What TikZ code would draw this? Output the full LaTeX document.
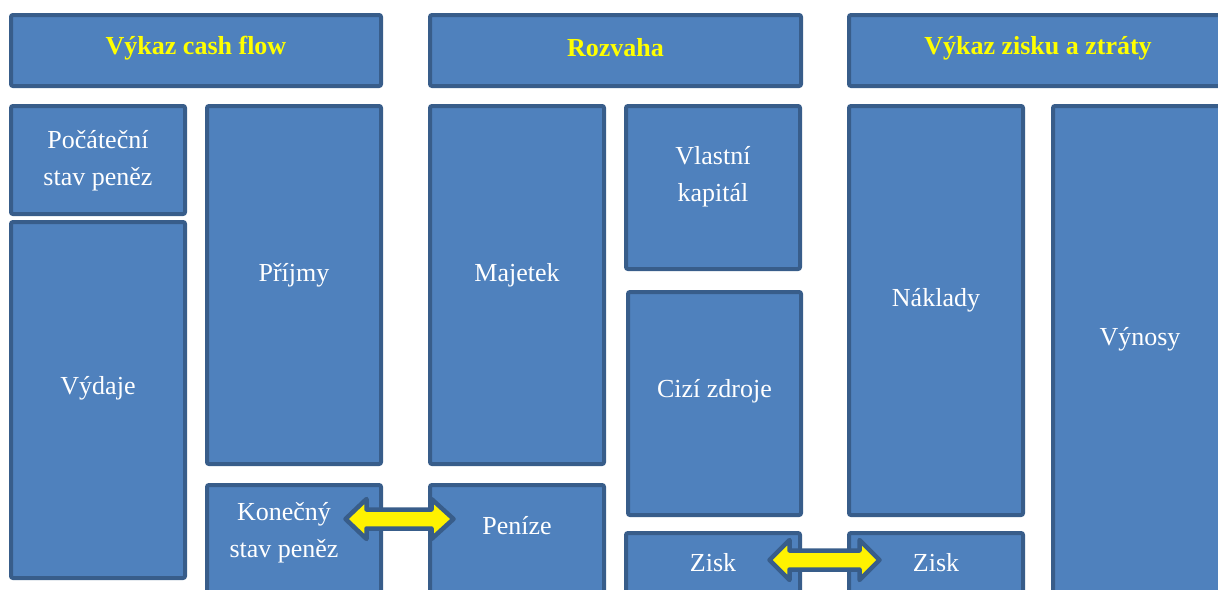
\documentclass[tikz,border=0pt]{standalone}
\usepackage{fontspec}
\setmainfont{Liberation Serif}
\usetikzlibrary{calc}
\definecolor{boxfill}{HTML}{4F81BD}
\definecolor{boxline}{HTML}{385D8A}
\definecolor{hdtext}{HTML}{FFFF00}
\newcommand\mkbox[5]{\node[box, minimum width={#4-#2}, minimum height={#5-#3}] (#1) at ({(#2+#4)/2},{(#3+#5)/2}) {};}
\begin{document}
\begin{tikzpicture}[x=1pt,y=-1pt,
  box/.style={rectangle, draw=boxline, fill=boxfill, line width=4pt, rounded corners=2pt, inner sep=0pt, outer sep=0pt},
  hd/.style={text=hdtext, font=\fontsize{26}{37}\selectfont\bfseries, inner sep=0pt},
  txt/.style={text=white, font=\fontsize{26}{37}\selectfont, align=center, inner sep=0pt},
  dblarr/.style={draw=boxline, fill=yellow, line width=4.5pt, line join=round}]
\useasboundingbox (0,0) rectangle (1218,589);
\clip (0,0) rectangle (1218,589);
% headers
\mkbox{hcf}{11}{15}{381}{86}
\mkbox{hroz}{430}{15}{801}{86}
\mkbox{hvz}{849}{15}{1227}{86}
\node[hd] at ($(hcf.north)+(0,33)$) {Výkaz cash flow};
\node[hd] at ($(hroz.north)+(0,33)$) {Rozvaha};
\node[hd] at ($(hvz.north)+(0,33)$) {Výkaz zisku a ztráty};
% cash flow
\mkbox{poc}{11}{106}{185}{214}
\mkbox{vyd}{11}{222}{185}{578}
\mkbox{pri}{207}{106}{381}{464}
\mkbox{kon}{207}{485}{381}{610}
% rozvaha
\mkbox{maj}{430}{106}{604}{464}
\mkbox{pen}{430}{485}{604}{610}
\mkbox{vla}{626}{106}{800}{269}
\mkbox{ciz}{628}{292}{801}{515}
\mkbox{zisL}{626}{533}{800}{610}
% vzz
\mkbox{nak}{849}{106}{1023}{515}
\mkbox{zisR}{849}{533}{1023}{610}
\mkbox{vyn}{1053}{106}{1227}{610}
% texts
\node[txt] at ($(poc.north)+(0,55)$) {Počáteční\\stav peněz};
\node[txt] at ($(vyd.north)+(0,166)$) {Výdaje};
\node[txt] at ($(pri.north)+(0,169)$) {Příjmy};
\node[txt] at ($(kon.north)+(-10,48)$) {Konečný\\stav peněz};
\node[txt] at ($(maj.north)+(0,169)$) {Majetek};
\node[txt] at ($(pen.north)+(0,41)$) {Peníze};
\node[txt] at ($(vla.north)+(0,71)$) {Vlastní\\kapitál};
\node[txt] at ($(ciz.north)+(0,99)$) {Cizí zdroje};
\node[txt] at ($(zisL.north)+(0,30)$) {Zisk};
\node[txt] at ($(nak.north)+(0,194)$) {Náklady};
\node[txt] at ($(zisR.north)+(0,30)$) {Zisk};
\node[txt] at ($(vyn.north)+(0,233)$) {Výnosy};
% double arrows
\coordinate (a1) at ($(kon.east |- 0,519)!0.5!(pen.west |- 0,519)+(-6,0)$);
\draw[dblarr] ($(a1)+(-54,0)$) -- ++(21,-20) -- ++(0,10.5) -- ++(65,0) -- ++(0,-10.5) -- ++(22,20) -- ++(-22,20) -- ++(0,-10.5) -- ++(-65,0) -- ++(0,10.5) -- cycle;
\coordinate (a2) at ($(zisL.east |- 0,560)!0.5!(zisR.west |- 0,560)$);
\draw[dblarr] ($(a2)+(-55,0)$) -- ++(20,-20) -- ++(0,10.5) -- ++(70,0) -- ++(0,-10.5) -- ++(20,20) -- ++(-20,20) -- ++(0,-10.5) -- ++(-70,0) -- ++(0,10.5) -- cycle;
\end{tikzpicture}
\end{document}
